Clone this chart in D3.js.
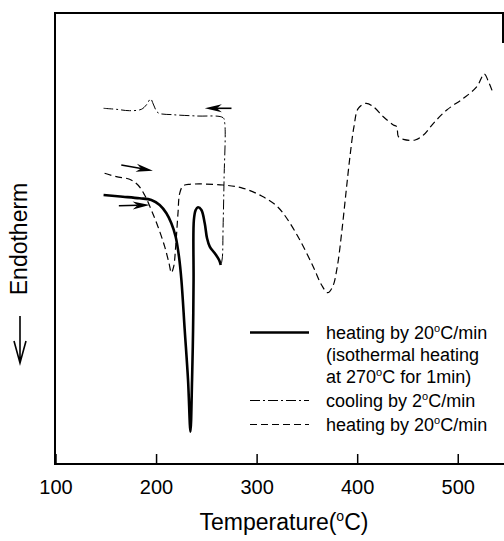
<!DOCTYPE html>
<html>
<head>
<meta charset="utf-8">
<script src="https://cdn.jsdelivr.net/npm/d3@7"></script>
<style>
  html, body { margin: 0; padding: 0; background: #fff; }
  svg { display: block; font-family: "Liberation Sans", Arial, sans-serif; }
</style>
</head>
<body>
<div id="chart"></div>
<script>
// DSC traces, temperature in degC, signal in arbitrary units (endotherm down)
const heatIsoTemp = [147.8, 167, 183.7, 195.3, 203.6, 210.3, 215.2, 219.5, 222.8, 225.2, 228.5, 231.8, 234.2,
    235.8, 236.8, 237.3, 237.6, 239.4, 241.7, 245.1, 248.4, 250.7, 253.4, 258.4, 262.7, 264.3];
const heatIsoSignal = [269, 267.3, 265.7, 264, 259, 250.7, 240.7, 227.3, 207.3, 184, 134, 84, 32.3,
    84, 134, 184, 244, 254, 256.7, 254, 240.7, 225.7, 217.3, 210.7, 204, 199];

// cooling runs from 270 down to 150, listed in the order it was recorded
const coolTemp = [265, 266, 266.6, 267.6, 268.3, 266.6, 240.1, 216.8, 201.9, 197.6, 194.6, 190.3, 185.4, 173.7, 160.4, 147.8];
const coolSignal = [200.7, 207.3, 234, 284, 340.7, 346.3, 348, 349.3, 351.3, 359, 365, 359, 354.7, 353.3, 354.7, 355.7];

const heatTemp = [148.8, 160.5, 173.7, 182, 188.6, 195.3, 201.9, 208.6, 212.9, 215.2, 217.5, 219.5, 221.8, 223.5,
    226.8, 233.5, 266.6, 286.6, 305, 320, 329.8, 343, 356.3, 364.6, 370.6, 375.6, 380.2, 384.5, 388.8, 392.8,
    396.8, 401.1, 408.8, 416, 426, 436, 439.3, 441, 446, 457.6, 465.9, 475.8, 489.1, 505.7, 519, 526.3, 530.6, 534.6];
const heatSignal = [290.7, 287.3, 284.7, 279, 269, 254, 237.3, 217.3, 200.7, 191.3, 197.3, 217.3, 250.7, 270.7,
    278, 279.7, 279, 275.7, 268, 258, 246, 224, 197.3, 179, 171.3, 177.3, 197.3, 230.7, 270.7, 307.3,
    337.3, 355.7, 360.7, 357.3, 347.3, 339, 337.3, 327.3, 324.7, 324, 329, 340.7, 354, 365.7, 377.3, 390, 382.3, 372.3];

const xTicks = [100, 200, 300, 400, 500];

// direction arrows: [tempFrom, signalFrom, tempTo, signalTo]
const arrows = [
    [275, 355.7, 248.5, 355.7],
    [165.4, 299, 196.9, 293.3],
    [163, 258.3, 193.6, 259]
];

const legendItems = [
    { dash: null, width: 2.6, lines: [['heating by 20', 'o', 'C/min'], ['(isothermal heating'], ['at 270', 'o', 'C for 1min)']] },
    { dash: '10,3,2,3', width: 1, lines: [['cooling by 2', 'o', 'C/min']] },
    { dash: '7,4', width: 1.2, lines: [['heating by 20', 'o', 'C/min']] }
];

const width = 504;
const height = 541;

const svg = d3.select('#chart').append('svg')
    .attr('width', width)
    .attr('height', height);

const x = d3.scaleLinear().domain([100, 546]).range([55.5, 504]);
const y = d3.scaleLinear().domain([0, 451]).range([464, 13]);

const line = d3.line()
    .x(d => x(d[0]))
    .y(d => y(d[1]))
    .curve(d3.curveCatmullRom.alpha(0.5));

// frame (right side is cut off in the original scan)
const frame = svg.append('g').attr('stroke', '#000').attr('stroke-width', 2).attr('fill', 'none');
frame.append('line').attr('x1', 55).attr('y1', 13).attr('x2', 55).attr('y2', 465);
frame.append('line').attr('x1', 54).attr('y1', 13).attr('x2', 503).attr('y2', 13);
frame.append('line').attr('x1', 503).attr('y1', 12).attr('x2', 503).attr('y2', 43);
frame.append('line').attr('x1', 54).attr('y1', 464).attr('x2', 504).attr('y2', 464);

const xAxis = svg.append('g')
    .attr('transform', 'translate(0,464)')
    .call(d3.axisBottom(x)
        .tickValues(xTicks)
        .tickSizeInner(-10)
        .tickSizeOuter(0)
        .tickPadding(16)
        .tickFormat(d3.format('d')));
xAxis.select('.domain').remove();
xAxis.selectAll('.tick line').attr('stroke', '#000').attr('stroke-width', 1.5);
xAxis.selectAll('text')
    .attr('font-family', '"Liberation Sans", Arial, sans-serif')
    .attr('font-size', 20)
    .attr('fill', '#000');

// axis titles
const xTitle = svg.append('text')
    .attr('x', 284)
    .attr('y', 530)
    .attr('text-anchor', 'middle')
    .attr('font-size', 23);
xTitle.append('tspan').text('Temperature(');
xTitle.append('tspan').attr('font-size', 14).attr('dy', -9).text('o');
xTitle.append('tspan').attr('dy', 9).text('C)');

svg.append('text')
    .attr('transform', 'translate(27,239) rotate(-90)')
    .attr('text-anchor', 'middle')
    .attr('font-size', 23)
    .text('Endotherm');

svg.append('path')
    .attr('d', 'M20,316 L20,363 M14,341 L20,363 L26,341')
    .attr('fill', 'none')
    .attr('stroke', '#000')
    .attr('stroke-width', 1.6);

// curves
const traces = svg.append('g').attr('fill', 'none').attr('stroke', '#000');

traces.append('path')
    .datum(heatTemp.map((t, i) => [t, heatSignal[i]]))
    .attr('d', line)
    .attr('stroke-width', 1.2)
    .attr('stroke-dasharray', '7,4');

traces.append('path')
    .datum(coolTemp.map((t, i) => [t, coolSignal[i]]))
    .attr('d', line)
    .attr('stroke-width', 1)
    .attr('stroke-dasharray', '10,3,2,3');

traces.append('path')
    .datum(heatIsoTemp.map((t, i) => [t, heatIsoSignal[i]]))
    .attr('d', line)
    .attr('stroke-width', 2.6)
    .attr('stroke-linejoin', 'round');

// arrows with narrow filled heads
arrows.forEach(a => {
    const x1 = x(a[0]), y1 = y(a[1]), x2 = x(a[2]), y2 = y(a[3]);
    const ang = Math.atan2(y2 - y1, x2 - x1);
    const cos = Math.cos(ang), sin = Math.sin(ang);
    const len = 17, half = 4, notch = 12;
    const bx = x2 - len * cos, by = y2 - len * sin;
    const nx = x2 - notch * cos, ny = y2 - notch * sin;
    svg.append('line')
        .attr('x1', x1).attr('y1', y1)
        .attr('x2', nx).attr('y2', ny)
        .attr('stroke', '#000')
        .attr('stroke-width', 1.6);
    svg.append('path')
        .attr('d', `M${x2},${y2} L${bx - half * sin},${by + half * cos} L${nx},${ny} L${bx + half * sin},${by - half * cos} Z`)
        .attr('fill', '#000');
});

// legend
const legend = svg.append('g').attr('font-size', 18);
let row = 0;
const rowY = [339, 361, 383, 407, 431];
legendItems.forEach(item => {
    const ly = rowY[row] - 6.5;
    legend.append('line')
        .attr('x1', 250).attr('x2', 309)
        .attr('y1', ly).attr('y2', ly)
        .attr('stroke', '#000')
        .attr('stroke-width', item.width)
        .attr('stroke-dasharray', item.dash);
    item.lines.forEach(parts => {
        const t = legend.append('text').attr('x', 326).attr('y', rowY[row]);
        t.append('tspan').text(parts[0]);
        if (parts.length > 1) {
            t.append('tspan').attr('font-size', 11).attr('dy', -7).text(parts[1]);
            t.append('tspan').attr('dy', 7).text(parts[2]);
        }
        row++;
    });
});
</script>
</body>
</html>
